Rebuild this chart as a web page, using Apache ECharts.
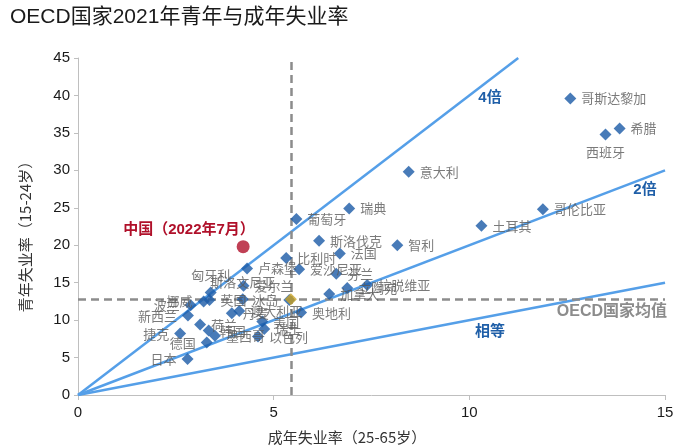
<!DOCTYPE html>
<html><head><meta charset="utf-8">
<script src="https://cdn.jsdelivr.net/npm/echarts@6/dist/echarts.min.js"></script>
<style>html,body{margin:0;padding:0;background:#fff}#c{width:692px;height:447px}</style>
</head><body><div id="c"></div>
<script>
// ---- data ----
const countries = ['哥斯达黎加','希腊','西班牙','意大利','哥伦比亚','土耳其','智利','瑞典','葡萄牙','斯洛伐克',
  '比利时','法国','爱沙尼亚','芬兰','拉脱维亚','立陶宛','加拿大','奥地利','卢森堡','爱尔兰',
  '斯洛文尼亚','冰岛','澳大利亚','丹麦','美国','瑞士','以色列','墨西哥','韩国','荷兰',
  '英国','匈牙利','挪威','波兰','新西兰','捷克','德国','日本'];
const adultRate = [12.58,13.84,13.48,8.45,11.88,10.31,8.16,6.93,5.58,6.16,
  5.32,6.69,5.65,6.60,7.39,6.88,6.42,5.70,4.32,4.23,
  4.21,5.40,4.12,3.93,4.71,4.76,4.60,3.50,3.34,3.12,
  3.36,3.39,3.21,2.88,2.81,2.61,3.29,2.80];
const youthRate = [39.6,35.6,34.8,29.8,24.8,22.6,20.0,24.9,23.5,20.6,
  18.3,18.9,16.8,16.2,14.7,14.3,13.5,11.0,16.9,14.6,
  12.8,12.7,11.2,10.9,9.8,8.8,7.8,7.9,8.6,9.4,
  12.7,13.7,12.5,12.0,10.6,8.2,7.0,4.8];
const oecdAvg = [5.44, 12.8];
const china = [4.22, 19.8];
const lineEqual = [[0,0],[15,15]];
const lineDouble = [[0,0],[15,30]];
const lineQuad = [[0,0],[11.25,45]];

// ---- label placement (style only) ----
const labelPlace = {
  '哥斯达黎加':['right',5,0],'希腊':['right',6,0],'西班牙':['bottom',28,-7],'意大利':['right',6,0],
  '哥伦比亚':['right',5,1],'土耳其':['right',6,0],'智利':['right',5,0],'瑞典':['right',6,2],
  '葡萄牙':['right',-3,-8],'斯洛伐克':['right',-2,-4],'比利时':['right',-4,-6],'法国':['right',0,0],
  '爱沙尼亚':['right',-1,-1],'芬兰':['right',-1,4],'拉脱维亚':['right',1,-6],'立陶宛':['right',2,5],
  '加拿大':['right',-2,7],'奥地利':['right',2,0],'卢森堡':['right',-1,0],'爱尔兰':['right',3,-6],
  '斯洛文尼亚':['top',27,9],'冰岛':['left',-2,-2],'澳大利亚':['right',-9,-2],'丹麦':['right',-8,7],
  '美国':['right',5,-2],'瑞士':['right',-2,1],'以色列':['right',-5,8],'墨西哥':['right',-12,11],
  '韩国':['right',-3,-1],'荷兰':['right',-13,-8],'英国':['right',-4,5],'匈牙利':['top',-12,6],
  '挪威':['left',1,-8],'波兰':['left',-3,0],'新西兰':['left',0,1],'捷克':['left',-7,8],
  '德国':['left',3,4],'日本':['left',0,3]
};

const CJK = '"Noto Sans CJK SC", sans-serif';
const LAT = '"Liberation Sans", Arial, "Noto Sans CJK SC", sans-serif';

const countryData = countries.map((n, i) => {
  const p = labelPlace[n] || ['right',0,0];
  return {
    name: n,
    value: [adultRate[i], youthRate[i]],
    label: { show: true, position: p[0], offset: [p[1], p[2]], formatter: n }
  };
});

const chart = echarts.init(document.getElementById('c'), null, {renderer: 'canvas'});
const refLine = (data) => ({
  type: 'line', data: data, symbol: 'none', silent: true, z: 1,
  lineStyle: { color: '#559fe8', width: 2.5 }, animation: false
});

chart.setOption({
  animation: false,
  backgroundColor: '#fff',
  title: {
    text: 'OECD国家2021年青年与成年失业率', left: 10, top: 7, padding: 0,
    textStyle: { fontSize: 21, fontWeight: 'normal', color: '#1a1a1a', fontFamily: LAT }
  },
  grid: { left: 78, right: 27, top: 58, bottom: 52 },
  xAxis: {
    type: 'value', min: 0, max: 15, interval: 5,
    axisLine: { show: true, lineStyle: { color: '#bfbfbf', width: 1 } },
    axisTick: { show: true, length: 5, lineStyle: { color: '#bfbfbf' } },
    splitLine: { show: false },
    axisLabel: { fontSize: 15, color: '#1a1a1a', fontFamily: LAT, margin: 10 }
  },
  yAxis: {
    type: 'value', min: 0, max: 45, interval: 5,
    axisLine: { show: true, lineStyle: { color: '#bfbfbf', width: 1 } },
    axisTick: { show: true, length: 4, lineStyle: { color: '#bfbfbf' } },
    splitLine: { show: false },
    axisLabel: { fontSize: 15, color: '#1a1a1a', fontFamily: LAT, margin: 8 }
  },
  series: [
    refLine(lineEqual), refLine(lineDouble), refLine(lineQuad),
    {
      type: 'scatter', name: 'countries', data: countryData, z: 3,
      symbol: 'diamond', symbolSize: 12,
      itemStyle: { color: '#1a5aa6' },
      label: { color: '#595959', fontSize: 13, fontFamily: CJK },
      labelLayout: { hideOverlap: false }
    },
    {
      type: 'scatter', name: 'oecd', data: [oecdAvg], z: 4,
      symbol: 'diamond', symbolSize: 12, itemStyle: { color: '#c9a227' },
      markLine: {
        silent: true, symbol: 'none', z: 2,
        label: { show: false },
        lineStyle: { color: '#8c8c8c', width: 2.5, type: [8, 5] },
        data: [{ xAxis: oecdAvg[0] }, { yAxis: oecdAvg[1] }]
      }
    },
    {
      type: 'scatter', name: 'china', data: [china], z: 4,
      symbol: 'circle', symbolSize: 13, itemStyle: { color: '#b0102a' }
    }
  ],
  graphic: [
    { type: 'text', x: 25, y: 233, rotation: Math.PI / 2,
      style: { text: '青年失业率（15-24岁）', fontSize: 15, fill: '#333', fontFamily: CJK, align: 'center', verticalAlign: 'middle' } },
    { type: 'text', x: 347, y: 437,
      style: { text: '成年失业率（25-65岁）', fontSize: 15, fill: '#333', fontFamily: CJK, align: 'center', verticalAlign: 'middle' } },
    { type: 'text', x: 490, y: 98,
      style: { text: '4倍', fontSize: 15, fontWeight: 'bold', fill: '#1f5fa8', fontFamily: LAT, align: 'center', verticalAlign: 'middle' } },
    { type: 'text', x: 645, y: 190,
      style: { text: '2倍', fontSize: 15, fontWeight: 'bold', fill: '#1f5fa8', fontFamily: LAT, align: 'center', verticalAlign: 'middle' } },
    { type: 'text', x: 490, y: 330,
      style: { text: '相等', fontSize: 15, fontWeight: 'bold', fill: '#1f5fa8', fontFamily: CJK, align: 'center', verticalAlign: 'middle' } },
    { type: 'text', x: 667, y: 312,
      style: { text: 'OECD国家均值', fontSize: 16, fontWeight: 'bold', fill: '#8c8c8c', fontFamily: LAT, align: 'right', verticalAlign: 'middle' } },
    { type: 'text', x: 189, y: 230,
      style: { text: '中国（2022年7月）', fontSize: 15, fontWeight: 'bold', fill: '#b0102a', fontFamily: LAT, align: 'center', verticalAlign: 'middle' } }
  ]
});
</script>
</body></html>
